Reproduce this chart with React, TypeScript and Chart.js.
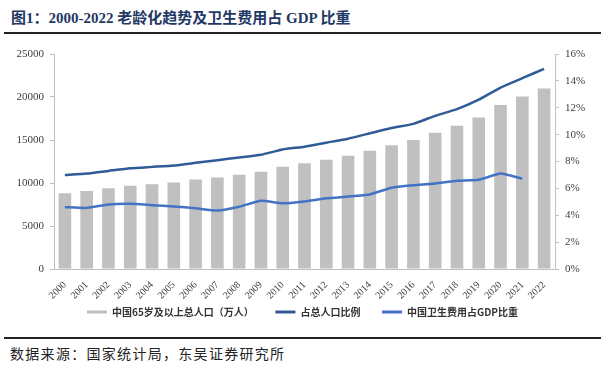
import React, { useEffect, useRef } from "react";
import { Chart, registerables } from "chart.js";

Chart.register(...registerables);

const years = ["2000","2001","2002","2003","2004","2005","2006","2007","2008","2009","2010","2011","2012","2013","2014","2015","2016","2017","2018","2019","2020","2021","2022"];
const elderlyPop = [8821,9062,9377,9692,9857,10055,10419,10636,10956,11307,11894,12288,12714,13161,13755,14386,15003,15831,16658,17603,19064,20056,20978];
const elderlyRatio = [7.0,7.1,7.3,7.5,7.6,7.7,7.9,8.1,8.3,8.5,8.9,9.1,9.4,9.7,10.1,10.5,10.8,11.4,11.9,12.6,13.5,14.2,14.9];
const healthGdp = [4.6,4.55,4.8,4.85,4.75,4.66,4.52,4.35,4.63,5.08,4.89,5.03,5.26,5.39,5.55,6.05,6.23,6.36,6.57,6.64,7.10,6.72,null];
const seriesNames = ["中国65岁及以上总人口（万人）","占总人口比例","中国卫生费用占GDP比重"];
const leftTicks = [0,5000,10000,15000,20000,25000];

const tickFont = { family: "'Liberation Serif', 'Times New Roman', serif", size: 11 };
const GAP = "      ";

export default function App() {
  const ref = useRef<HTMLCanvasElement>(null);
  useEffect(() => {
    const chart = new Chart(ref.current!, {
      type: "bar",
      data: {
        labels: years,
        datasets: [
          { type: "bar", label: seriesNames[0], data: elderlyPop, backgroundColor: "#C0C0C0", borderWidth: 0, yAxisID: "y", order: 2, categoryPercentage: 1, barPercentage: 0.58 },
          { type: "line", label: seriesNames[1], data: elderlyRatio, borderColor: "#2F5B97", backgroundColor: "#2F5B97", borderWidth: 2.5, pointRadius: 0, yAxisID: "y1", order: 1, tension: 0.15 },
          { type: "line", label: seriesNames[2], data: healthGdp, borderColor: "#4472C4", backgroundColor: "#4472C4", borderWidth: 2.5, pointRadius: 0, yAxisID: "y1", order: 0, tension: 0.15 },
        ] as any,
      },
      options: {
        animation: false,
        responsive: false,
        layout: { padding: { top: 14, bottom: 3, left: 0, right: 0 } },
        plugins: {
          tooltip: { enabled: false },
          legend: {
            position: "bottom",
            labels: {
              sort: (a: any, b: any) => a.datasetIndex - b.datasetIndex,
              generateLabels: (c: any) => {
                const items = Chart.defaults.plugins.legend.labels.generateLabels(c);
                return items.map((it: any) => ({ ...it, text: it.datasetIndex < 2 ? it.text + GAP : it.text, lineWidth: 0 }));
              },
              boxWidth: 20,
              boxHeight: 3,
              padding: 8,
              color: "#333",
              font: { family: "'Noto Sans CJK SC', sans-serif", size: 10, weight: "bold" },
            },
          },
        },
        scales: {
          x: {
            grid: { display: false },
            border: { display: true, color: "#BFBFBF" },
            ticks: { autoSkip: false, minRotation: 45, maxRotation: 45, color: "#404040", font: { ...tickFont, size: 10 }, padding: 2 },
            afterFit: (s: any) => { s.height = 30; },
          },
          y: {
            position: "left",
            min: 0, max: 25000,
            afterBuildTicks: (s: any) => { s.ticks = leftTicks.map((v) => ({ value: v })); },
            grid: { drawOnChartArea: false, drawTicks: true, tickLength: 4, color: "#BFBFBF" },
            border: { display: true, color: "#BFBFBF" },
            ticks: { color: "#404040", font: tickFont, padding: 6, callback: (v: any) => String(v) },
            afterFit: (s: any) => { s.width = 54; },
          },
          y1: {
            position: "right",
            min: 0, max: 16,
            ticks: { stepSize: 2, color: "#404040", font: tickFont, padding: 6, callback: (v: any) => v + "%" },
            grid: { drawOnChartArea: false, drawTicks: true, tickLength: 4, color: "#BFBFBF" },
            border: { display: true, color: "#BFBFBF" },
            afterFit: (s: any) => { s.width = 50; },
          },
        },
      } as any,
    });
    return () => chart.destroy();
  }, []);

  return (
    <div style={{ position: "fixed", left: 0, top: 0, width: 605, height: 369, background: "#fff", overflow: "hidden" }}>
      <div style={{ position: "absolute", left: 11, top: 6, fontFamily: "'Liberation Serif', 'Noto Sans CJK SC', serif", fontWeight: "bold", fontSize: 15, color: "#1F3864", whiteSpace: "nowrap" }}>
        图1：2000-2022 老龄化趋势及卫生费用占 GDP 比重
      </div>
      <div style={{ position: "absolute", left: 4, top: 32, width: 597, height: 2, background: "#222" }} />
      <canvas ref={ref} width={605} height={290} style={{ position: "absolute", left: 0, top: 40, width: 605, height: 290 }} />
      <div style={{ position: "absolute", left: 4, top: 337, width: 597, height: 2, background: "#222" }} />
      <div style={{ position: "absolute", left: 10, top: 343, fontFamily: "'Noto Sans CJK SC', sans-serif", fontSize: 14, letterSpacing: 1.3, color: "#222", whiteSpace: "nowrap" }}>
        数据来源：国家统计局，东吴证券研究所
      </div>
    </div>
  );
}
